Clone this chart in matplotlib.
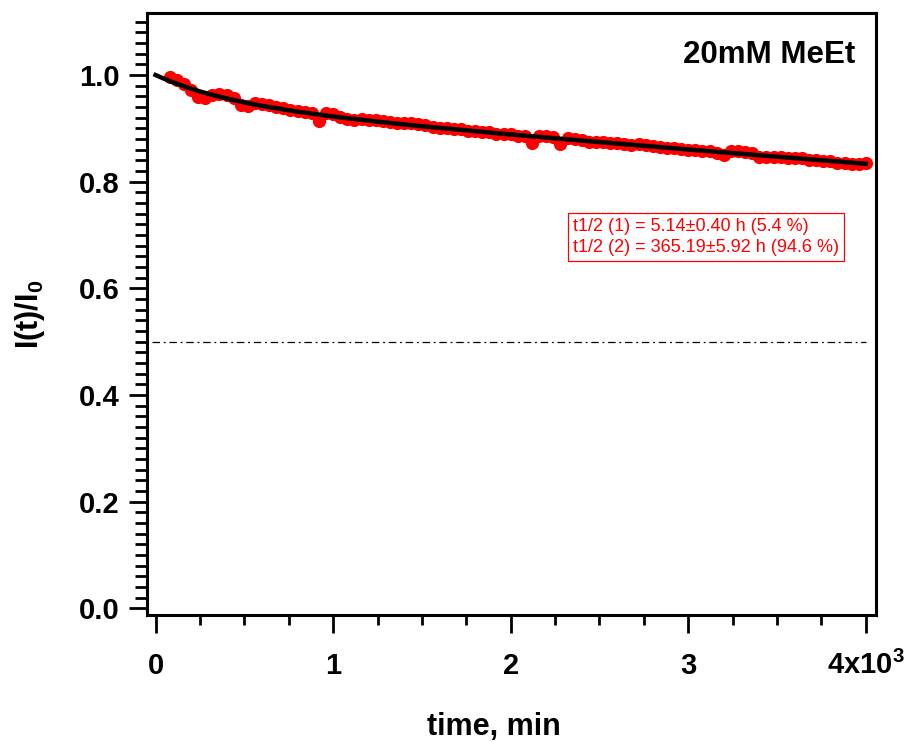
import numpy as np
import matplotlib
matplotlib.use("Agg")
import matplotlib.pyplot as plt
from matplotlib.ticker import MultipleLocator

plt.rcParams["font.family"] = ["Liberation Sans", "DejaVu Sans"]
plt.rcParams["mathtext.fontset"] = "custom"
plt.rcParams["mathtext.rm"] = "Liberation Sans"
plt.rcParams["mathtext.bf"] = "Liberation Sans:bold"

# measured decay, sampled every 40 min
time_min = np.arange(80, 4001, 40)
intensity = [
    0.997, 0.991, 0.984, 0.972, 0.959, 0.956, 0.962, 0.965, 0.963, 0.957,
    0.944, 0.942, 0.947, 0.945, 0.943, 0.940, 0.938, 0.935, 0.933, 0.930,
    0.929, 0.913, 0.928, 0.926, 0.922, 0.917, 0.916, 0.917, 0.916, 0.915,
    0.913, 0.912, 0.910, 0.910, 0.910, 0.909, 0.906, 0.903, 0.900, 0.901,
    0.898, 0.898, 0.895, 0.896, 0.893, 0.893, 0.890, 0.890, 0.890, 0.886,
    0.886, 0.872, 0.886, 0.885, 0.883, 0.870, 0.882, 0.881, 0.878, 0.875,
    0.875, 0.875, 0.872, 0.872, 0.871, 0.868, 0.870, 0.869, 0.867, 0.865,
    0.863, 0.864, 0.861, 0.860, 0.860, 0.857, 0.857, 0.854, 0.850, 0.857,
    0.857, 0.855, 0.854, 0.847, 0.847, 0.847, 0.847, 0.844, 0.844, 0.844,
    0.841, 0.841, 0.839, 0.838, 0.836, 0.836, 0.834, 0.834, 0.836,
]

# biexponential fit curve
fit_time = [0, 50, 100, 150, 200, 250, 300, 400, 500, 600, 800, 1000,
            1250, 1500, 2000, 2500, 3000, 3500, 4000]
fit_value = [1.0, 0.9928, 0.9861, 0.9801, 0.9745, 0.9693, 0.9646, 0.9561,
             0.9487, 0.9422, 0.9313, 0.9223, 0.9126, 0.9040, 0.8886, 0.8743,
             0.8604, 0.8469, 0.8336]

half_level = 0.5
x_ticks = [0, 1000, 2000, 3000, 4000]
x_tick_labels = ["0", "1", "2", "3", r"4x10$^{\mathbf{3}}$"]
y_ticks = [0.0, 0.2, 0.4, 0.6, 0.8, 1.0]
fit_text = "t1/2 (1) = 5.14\u00b10.40 h (5.4 %)\nt1/2 (2) = 365.19\u00b15.92 h (94.6 %)"

fig = plt.figure(figsize=(9.11, 7.42), dpi=100)
ax = fig.add_axes([147 / 911, 1 - 615 / 742, 729 / 911, 601.7 / 742])

ax.plot(time_min, intensity, "o", color="red", ms=9.5, mew=0, zorder=2)
ax.plot(fit_time, fit_value, color="black", lw=3.2, zorder=3)
ax.hlines(half_level, -20, 4000, colors="black", lw=0.9,
          linestyles=(0, (6, 3, 1.5, 3)), zorder=1)

ax.set_xlim(-48, 4057)
ax.set_ylim(-0.0122, 1.1157)

for s in ax.spines.values():
    s.set_linewidth(2.2)

ax.set_xticks(x_ticks, labels=x_tick_labels, fontsize=21, fontweight="bold",
              va="baseline")
ax.xaxis.set_minor_locator(MultipleLocator(250))
ax.set_yticks(y_ticks, labels=["%.1f" % v for v in y_ticks], fontsize=21,
              fontweight="bold")
ax.yaxis.set_minor_locator(MultipleLocator(0.02))

ax.tick_params(axis="x", which="major", length=13, width=2, pad=29.5)
ax.tick_params(axis="x", which="minor", length=7, width=2)
ax.tick_params(axis="y", which="major", length=13, width=2, pad=6.8)
ax.tick_params(axis="y", which="minor", length=9, width=2)

ax.set_xlabel("time, min", fontsize=22, fontweight="bold")
ax.xaxis.set_label_coords((494 - 147) / 729, (615 - 735) / 601.7)
ax.xaxis.label.set_va("baseline")
ax.set_ylabel(r"$\mathbf{I(t)/I_0}$", fontsize=22)
ax.yaxis.set_label_coords((30 - 147) / 729, 0.5)
ax.yaxis.label.set_va("center")

ax.text((855 - 147) / 729, (615 - 63.3) / 601.7, "20mM MeEt",
        transform=ax.transAxes, ha="right", va="baseline",
        fontsize=22.5, fontweight="bold")

ax.text(2351, 0.6963, fit_text, color="red", fontsize=13, ha="left",
        va="center", linespacing=1.25,
        bbox=dict(boxstyle="square,pad=0.3", fc="white", ec="red", lw=0.9))

fig.savefig("out.png", dpi=100)
